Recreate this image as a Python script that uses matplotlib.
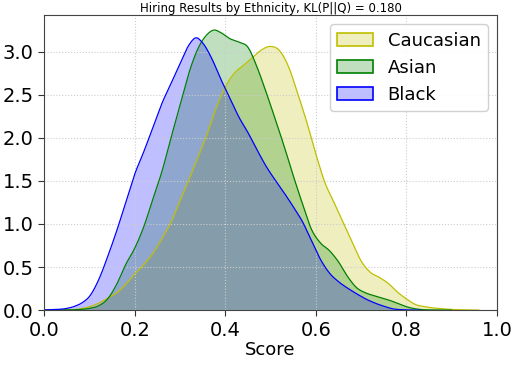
import numpy as np
import matplotlib
matplotlib.use("Agg")
import matplotlib.pyplot as plt
from matplotlib.patches import Patch
import matplotlib.colors as mcolors

# Density curves
x_cauc = [0.0, 0.05, 0.08, 0.10, 0.12, 0.14, 0.16, 0.18, 0.20, 0.22, 0.24, 0.26, 0.28, 0.30,
          0.32, 0.34, 0.36, 0.38, 0.40, 0.42, 0.44, 0.46, 0.48, 0.50, 0.52, 0.54, 0.56, 0.58,
          0.60, 0.62, 0.64, 0.66, 0.68, 0.70, 0.72, 0.74, 0.76, 0.78, 0.80, 0.82, 0.84, 0.86,
          0.88, 0.90, 0.93, 0.96]
y_cauc = [0.0, 0.003, 0.014, 0.04, 0.08, 0.14, 0.20, 0.30, 0.42, 0.53, 0.66, 0.83, 1.02, 1.27,
          1.52, 1.78, 2.05, 2.35, 2.59, 2.75, 2.84, 2.93, 3.02, 3.06, 3.01, 2.82, 2.51, 2.18,
          1.81, 1.48, 1.25, 1.02, 0.79, 0.57, 0.44, 0.38, 0.31, 0.21, 0.13, 0.065, 0.04, 0.025,
          0.015, 0.008, 0.003, 0.0]

x_asian = [0.0, 0.05, 0.08, 0.10, 0.12, 0.14, 0.16, 0.18, 0.20, 0.22, 0.24, 0.26, 0.28, 0.30,
           0.32, 0.34, 0.36, 0.375, 0.39, 0.41, 0.43, 0.45, 0.47, 0.49, 0.51, 0.53, 0.55, 0.57,
           0.59, 0.61, 0.63, 0.65, 0.67, 0.69, 0.71, 0.73, 0.75, 0.77, 0.79, 0.81, 0.83, 0.86,
           0.90]
y_asian = [0.0, 0.002, 0.008, 0.02, 0.05, 0.13, 0.30, 0.53, 0.72, 0.97, 1.29, 1.61, 2.00, 2.38,
           2.76, 3.04, 3.20, 3.25, 3.22, 3.15, 3.11, 3.05, 2.82, 2.53, 2.22, 1.90, 1.56, 1.24,
           0.94, 0.78, 0.69, 0.56, 0.39, 0.26, 0.20, 0.165, 0.135, 0.10, 0.058, 0.025, 0.008,
           0.002, 0.0]

x_black = [0.0, 0.03, 0.05, 0.07, 0.085, 0.10, 0.12, 0.14, 0.16, 0.18, 0.20, 0.22, 0.24, 0.26,
           0.28, 0.30, 0.32, 0.335, 0.35, 0.37, 0.39, 0.41, 0.43, 0.45, 0.47, 0.49, 0.51, 0.53,
           0.55, 0.57, 0.59, 0.61, 0.63, 0.65, 0.67, 0.69, 0.71, 0.73, 0.75, 0.77, 0.80, 0.83]
y_black = [0.002, 0.008, 0.02, 0.05, 0.09, 0.16, 0.35, 0.62, 0.92, 1.25, 1.58, 1.84, 2.12, 2.40,
           2.63, 2.86, 3.08, 3.16, 3.10, 2.92, 2.68, 2.46, 2.24, 2.06, 1.86, 1.67, 1.51, 1.36,
           1.20, 1.03, 0.81, 0.59, 0.43, 0.33, 0.255, 0.19, 0.13, 0.083, 0.045, 0.015, 0.003, 0.0]

labels = ["Caucasian", "Asian", "Black"]
colors = ["y", "g", "b"]
title = "Hiring Results by Ethnicity, KL(P||Q) = 0.180"


def smooth(xs, ys, n=800):
    xs = np.asarray(xs, float)
    ys = np.asarray(ys, float)
    m = np.gradient(ys, xs)
    xx = np.linspace(xs[0], xs[-1], n)
    idx = np.clip(np.searchsorted(xs, xx) - 1, 0, len(xs) - 2)
    h = xs[idx + 1] - xs[idx]
    t = (xx - xs[idx]) / h
    h00 = 2 * t**3 - 3 * t**2 + 1
    h10 = t**3 - 2 * t**2 + t
    h01 = -2 * t**3 + 3 * t**2
    h11 = t**3 - t**2
    yy = h00 * ys[idx] + h10 * h * m[idx] + h01 * ys[idx + 1] + h11 * h * m[idx + 1]
    return xx, np.clip(yy, 0, None)


fig = plt.figure(figsize=(5.27, 3.67), dpi=100)
ax = fig.add_axes([0.084, 0.155, 0.859, 0.803])

for xs, ys, lab, c in zip([x_cauc, x_asian, x_black], [y_cauc, y_asian, y_black], labels, colors):
    xx, yy = smooth(xs, ys)
    ax.fill_between(xx, 0, yy, color=c, alpha=0.25, linewidth=0)
    ax.plot(xx, yy, color=c, linewidth=0.9)

handles = [Patch(facecolor=mcolors.to_rgba(c, 0.25), edgecolor=c, linewidth=1.2, label=l)
           for l, c in zip(labels, colors)]
ax.legend(handles=handles, loc="upper right", fontsize=13, framealpha=0.9,
          handlelength=2.0, handleheight=0.7, borderaxespad=0.5)

ax.set_xlim(0, 1.0)
ax.set_ylim(0, 3.42)
ax.set_xticks([0.0, 0.2, 0.4, 0.6, 0.8, 1.0])
ax.set_yticks([0.0, 0.5, 1.0, 1.5, 2.0, 2.5, 3.0])
ax.tick_params(labelsize=14, color="#333333", length=4)
ax.grid(True, linestyle=":", color="#cccccc", linewidth=0.8)
for s in ax.spines.values():
    s.set_color("#444444")
ax.set_xlabel("Score", fontsize=13, labelpad=1)
ax.set_title(title, fontsize=8.5, pad=2)

fig.savefig("out.png", dpi=100)
